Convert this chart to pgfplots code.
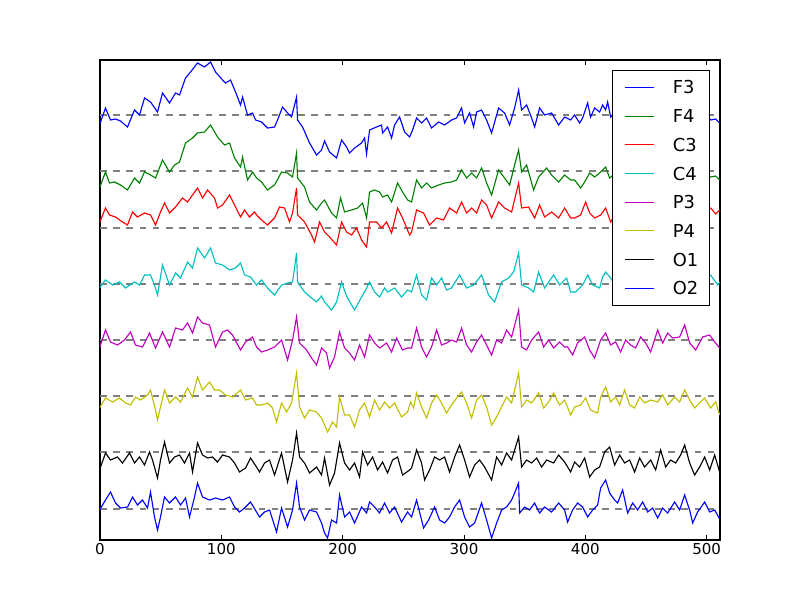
\documentclass[border=0pt]{standalone}
\usepackage{fontspec}
\setmainfont{DejaVu Sans}
\usepackage{pgfplots}
\usepackage{pgfplotstable}
\pgfplotsset{compat=1.18}

\definecolor{mplb}{rgb}{0,0,1}
\definecolor{mplg}{rgb}{0,0.5,0}
\definecolor{mplr}{rgb}{1,0,0}
\definecolor{mplc}{rgb}{0,0.75,0.75}
\definecolor{mplm}{rgb}{0.75,0,0.75}
\definecolor{mply}{rgb}{0.75,0.75,0}

% traces: px = horizontal position, off = deflection
% above the channel's own (dashed) baseline
\pgfplotstableread{
px off
100 -10
106 7
111 -5
116 -4
121 -6
128 -12
135 5
140 0
145 17
151 13
158 3
163 22
170 12
176 22
180 20
186 37
191 43
198 52
205 48
211 53
216 43
223 35
226 32
231 35
236 23
241 10
243 18
248 0
253 2
256 -5
262 -7
268 -13
275 -12
278 -5
283 8
288 2
292 -2
297 18
298 -5
303 -12
310 -28
317 -40
322 -35
325 -26
330 -37
337 -43
342 -25
347 -32
350 -38
355 -33
362 -28
365 -23
367 -39
370 -15
377 -12
382 -10
383 -18
388 -12
392 -23
395 -10
400 -2
405 -17
410 -22
413 -15
417 -3
422 -8
427 -3
432 -13
439 -7
445 -10
452 -5
457 -3
462 7
465 -8
470 2
474 -12
477 3
482 5
487 -5
492 -18
499 7
505 2
510 -10
515 7
519 25
522 5
527 10
532 -3
535 -12
540 7
545 0
552 2
559 -10
565 -2
571 -5
575 0
580 -8
583 -3
588 12
591 -2
595 7
600 3
603 10
606 5
608 13
611 -2
616 4
622 -3
628 6
634 0
640 -6
646 3
652 8
658 -2
664 4
670 -4
676 2
682 7
688 -1
694 3
700 -5
706 1
711 -5
716 -4
720 -8
}\Fthree

\pgfplotstableread{
px off
100 -17
106 -1
110 -12
115 -11
121 -14
128 -19
135 -7
140 -12
145 -1
151 -4
156 -7
163 11
170 -1
175 6
180 9
186 28
193 33
198 38
205 39
211 46
218 34
225 26
230 28
235 13
241 4
243 14
248 -9
253 -1
257 -7
262 -11
268 -19
275 -14
282 -1
288 -2
293 -6
297 18
298 -7
305 -16
310 -31
317 -39
322 -32
325 -29
332 -42
337 -47
341 -27
345 -41
352 -39
358 -37
363 -32
367 -47
370 -21
375 -19
380 -21
383 -26
388 -24
392 -31
398 -12
403 -21
408 -29
412 -31
417 -9
422 -17
427 -12
432 -17
439 -14
445 -12
452 -11
457 -9
462 1
467 -7
472 -2
477 -7
482 3
487 -12
492 -24
499 1
505 -7
510 -14
515 6
519 21
522 -1
527 6
534 -19
539 -6
547 3
552 -4
559 -11
565 -4
571 -9
575 -9
581 -17
585 -11
590 -2
595 -6
601 -1
606 4
610 -7
616 -2
622 -8
628 0
634 -5
640 -10
646 -3
652 2
658 -6
664 -1
670 -7
676 -3
682 2
688 -5
694 -1
700 -8
706 -3
711 -6
716 -5
720 -9
}\Ffour

\pgfplotstableread{
px off
100 5
106 20
110 13
116 11
123 6
128 3
133 16
138 11
145 15
151 13
156 3
161 16
165 25
170 15
176 21
183 30
188 26
193 33
198 40
203 30
208 38
215 30
218 20
223 23
230 33
235 23
241 11
245 18
250 11
255 16
258 12
262 8
268 3
275 10
280 21
285 20
290 6
293 15
297 40
298 13
305 6
312 -7
315 -14
320 6
325 -4
330 -9
337 -17
342 6
347 -4
352 -7
357 0
362 -12
367 -19
370 6
377 6
382 0
387 6
392 -5
398 20
403 10
410 -7
412 -4
417 18
424 15
430 3
437 10
444 8
450 20
457 15
462 26
467 15
472 20
477 15
482 28
487 23
492 10
499 26
505 20
512 16
519 45
522 20
529 21
535 10
540 23
545 11
552 16
559 10
565 20
571 10
575 10
581 13
586 26
590 15
595 10
601 13
606 20
611 6
616 14
622 9
628 17
634 12
640 8
646 15
652 19
658 11
664 14
670 7
676 13
682 18
688 10
694 15
700 12
706 17
711 20
716 14
720 18
}\Cthree

\pgfplotstableread{
px off
100 -4
106 4
113 -1
120 2
126 -4
135 2
140 -1
145 9
151 9
155 -1
158 -11
163 19
170 -1
176 11
181 6
188 22
193 16
198 36
205 26
211 36
216 21
223 19
230 14
236 16
241 21
245 9
251 7
257 -1
262 4
268 -4
275 -11
282 -1
288 1
293 2
297 31
298 2
305 -8
312 -14
317 -18
322 -12
325 -18
332 -26
337 -18
342 2
347 -12
355 -26
362 -13
366 -6
370 2
375 -8
380 -13
385 -4
388 -8
395 -4
402 -13
408 -6
412 -8
417 9
422 -11
427 -16
432 6
437 -1
442 6
447 -6
452 -4
460 9
467 -4
474 -1
482 9
489 -11
495 -18
502 2
509 6
514 12
519 31
522 -1
529 -4
534 -8
539 12
545 -4
554 9
560 -1
567 6
571 -8
576 -8
583 -1
588 9
593 -1
600 -4
603 7
606 12
611 6
616 -2
622 4
628 -5
634 3
640 8
646 -3
652 2
658 -6
664 5
670 0
676 -4
682 6
688 1
694 -5
700 3
706 7
711 9
718 -1
720 2
}\Cfour

\pgfplotstableread{
px off
100 -8
106 10
111 -2
118 -5
125 0
131 8
136 -5
143 -7
150 7
156 -8
163 8
170 -7
176 12
183 10
188 17
193 7
198 23
203 17
210 15
216 -7
223 8
228 10
233 5
241 -10
246 -2
253 3
257 -7
262 -12
268 -10
275 -7
282 0
288 -20
293 0
297 23
300 -3
307 -10
312 -18
317 -25
322 -8
327 -13
330 -28
335 -17
340 8
345 -8
350 -13
355 -20
360 -5
365 -17
370 5
375 -3
380 -8
387 -3
392 -12
397 2
403 -10
408 -8
412 -8
417 12
422 -7
427 -17
432 -7
437 10
442 -5
447 -3
452 0
457 -2
462 12
467 -5
472 -12
477 -2
482 5
487 -5
492 -15
497 0
502 -3
507 10
512 3
519 30
522 -7
527 -10
532 0
539 8
544 -7
549 0
554 -8
560 -2
565 -7
568 -7
573 -15
578 -3
585 3
590 -10
595 -18
601 0
606 7
611 -5
616 -2
621 -12
626 0
631 -5
636 -8
641 3
646 -3
651 -12
658 10
663 -3
668 7
673 2
680 3
685 15
690 -3
696 -10
703 3
710 5
715 -2
720 -8
}\Pthree

\pgfplotstableread{
px off
100 -12
106 -2
113 -6
120 -2
126 -7
131 -9
136 -1
141 -4
148 1
151 6
156 -14
158 -24
161 -11
165 6
170 -7
176 -1
181 -6
188 8
193 -1
198 19
203 6
210 14
215 6
220 6
226 1
233 -1
241 6
246 -4
253 -2
257 -9
262 -9
268 -7
273 -12
277 -26
282 -7
287 -16
292 -7
297 23
300 -11
305 -22
310 -14
317 -16
322 -22
328 -36
333 -26
337 -31
340 -1
345 -19
350 -19
355 -31
360 -14
365 -7
370 -21
375 -4
380 -14
385 -6
390 -12
395 -7
402 -21
408 -16
411 -6
414 -12
417 3
422 -11
427 -22
432 -7
437 1
442 -7
447 -17
452 -9
457 -2
462 4
467 -7
472 -22
477 -4
482 1
487 -11
492 -29
497 -21
502 -11
507 -1
512 -7
519 23
522 -11
527 -4
532 -7
539 3
544 -12
549 -6
554 3
560 -9
565 -4
571 -19
575 -11
581 -9
586 -2
591 -14
598 -17
601 -1
606 9
611 -6
616 -1
620 -9
625 6
630 -9
635 -12
640 -1
645 -7
651 -4
658 -6
663 1
668 -9
675 -1
680 -6
685 6
690 -4
695 -12
700 -7
705 -2
711 -12
716 -6
720 -19
}\Pfour

\pgfplotstableread{
px off
100 -18
106 -1
111 -8
118 -5
123 -11
130 -1
135 -11
140 -5
145 -13
150 0
153 -8
158 -26
161 -8
165 10
170 -11
175 -5
180 -3
185 -11
190 -1
193 -20
198 9
203 -3
208 -6
213 -5
218 -10
223 -3
230 -5
235 -11
240 -20
246 -16
251 -6
257 -15
260 -20
265 -11
270 -8
275 -23
282 -1
288 -30
293 -8
297 19
300 -5
305 -11
310 -21
317 -15
322 -23
325 -6
330 -33
335 -21
340 9
345 -11
350 -18
355 -11
360 -25
363 0
368 -13
373 -5
378 -18
383 -10
388 -21
393 -8
398 -5
403 -23
410 -18
412 -16
417 2
422 -11
425 -28
430 -18
435 -5
440 -8
445 -5
450 -20
455 -5
460 7
465 -8
470 -25
475 -13
480 -8
485 -15
492 -28
497 -5
502 -13
507 -1
512 -8
519 15
522 -15
527 -8
532 -11
537 -6
542 -15
547 -8
554 -11
559 -3
565 -10
571 -20
575 -10
580 -15
585 -6
590 -25
595 -18
600 -15
605 0
610 5
615 -13
620 -3
625 -11
630 -8
635 -20
640 -6
645 -15
651 -8
656 -18
661 2
666 -15
671 -8
676 -11
681 -3
685 7
690 -11
695 -23
700 -15
705 -5
710 -18
715 -3
720 -20
}\Oone

\pgfplotstableread{
px off
100 -1
106 9
111 17
116 6
121 1
128 2
133 12
138 4
143 9
148 1
151 17
155 -8
158 -21
161 -8
165 12
170 6
176 12
181 4
186 11
190 -8
195 12
198 26
203 12
210 9
216 11
223 9
230 12
235 2
240 -3
245 1
251 7
257 -3
260 -8
265 -3
270 -1
277 -23
282 1
288 -18
293 -1
297 26
300 2
305 -11
310 -1
317 -3
322 -14
325 -24
328 -29
332 -11
337 -14
340 14
345 -8
350 -3
355 -14
362 2
367 -4
370 7
375 2
380 -4
385 6
390 -4
395 2
402 -13
408 -3
412 -8
417 9
424 -19
429 -11
435 2
440 -11
445 -14
450 -8
455 2
460 9
465 -8
470 -18
475 -14
482 6
487 -11
492 -29
497 -14
502 -1
507 2
512 9
515 16
519 26
520 -4
525 2
530 -1
535 6
540 -4
545 2
552 -3
559 6
565 -1
568 -13
573 -1
578 6
583 2
588 -8
593 -1
598 4
601 21
606 29
610 16
615 9
618 6
623 19
628 -4
633 6
638 -1
643 7
648 -3
653 1
658 -9
663 1
668 -4
675 7
680 -1
685 14
690 -1
693 -14
698 -3
705 7
710 -3
715 -1
720 -10
}\Otwo

\begin{document}
\begin{tikzpicture}
\useasboundingbox (-2.5cm,-1.5cm) rectangle (17.5cm,13.5cm);
\begin{axis}[
    at={(0,0)}, anchor=south west,
    width=15.5cm, height=12cm, scale only axis,
    xmin=0, xmax=511, ymin=0, ymax=480,
    xtick={0,100,...,500}, ytick=\empty,
    tick align=inside,
    major tick length=3.5pt,
    tick style={black, line width=0.5pt},
    axis line style={line width=0.8pt},
    /pgf/number format/assume math mode=true,
    ticklabel style={font=\fontsize{10.7}{12}\selectfont},
    xticklabel style={inner sep=2.5pt},
    every axis plot/.append style={line width=0.8pt},
    legend cell align=left,
    legend style={at={(0.984,0.979)}, anchor=north east,
        draw=black, line width=0.8pt, fill=white,
        font=\fontsize{12.7}{15}\selectfont,
        inner xsep=8pt, inner ysep=7.4pt, row sep=11.2pt,
        nodes={inner sep=0pt, text height=9.2pt, text depth=0pt},
        /tikz/every odd column/.append style={column sep=0.47cm}},
    legend image code/.code={\draw[#1] (0cm,0cm) -- (0.725cm,0cm);},
]
% dashed channel baselines
\addplot[gray, dash pattern=on 4.7pt off 4.7pt, forget plot] coordinates {(0,425) (511,425)};
\addplot[gray, dash pattern=on 4.7pt off 4.7pt, forget plot] coordinates {(0,369) (511,369)};
\addplot[gray, dash pattern=on 4.7pt off 4.7pt, forget plot] coordinates {(0,312) (511,312)};
\addplot[gray, dash pattern=on 4.7pt off 4.7pt, forget plot] coordinates {(0,256) (511,256)};
\addplot[gray, dash pattern=on 4.7pt off 4.7pt, forget plot] coordinates {(0,200) (511,200)};
\addplot[gray, dash pattern=on 4.7pt off 4.7pt, forget plot] coordinates {(0,144) (511,144)};
\addplot[gray, dash pattern=on 4.7pt off 4.7pt, forget plot] coordinates {(0,88) (511,88)};
\addplot[gray, dash pattern=on 4.7pt off 4.7pt, forget plot] coordinates {(0,31) (511,31)};

\addplot[mplb] table[x expr=(\thisrow{px}-100.5)/1.213, y expr=\thisrow{off}+425] {\Fthree};
\addplot[mplg] table[x expr=(\thisrow{px}-100.5)/1.213, y expr=\thisrow{off}+369] {\Ffour};
\addplot[mplr] table[x expr=(\thisrow{px}-100.5)/1.213, y expr=\thisrow{off}+312] {\Cthree};
\addplot[mplc] table[x expr=(\thisrow{px}-100.5)/1.213, y expr=\thisrow{off}+256] {\Cfour};
\addplot[mplm] table[x expr=(\thisrow{px}-100.5)/1.213, y expr=\thisrow{off}+200] {\Pthree};
\addplot[mply] table[x expr=(\thisrow{px}-100.5)/1.213, y expr=\thisrow{off}+144] {\Pfour};
\addplot[black] table[x expr=(\thisrow{px}-100.5)/1.213, y expr=\thisrow{off}+88] {\Oone};
\addplot[mplb] table[x expr=(\thisrow{px}-100.5)/1.213, y expr=\thisrow{off}+31] {\Otwo};
\legend{F3, F4, C3, C4, P3, P4, O1, O2}
\end{axis}
\end{tikzpicture}
\end{document}
